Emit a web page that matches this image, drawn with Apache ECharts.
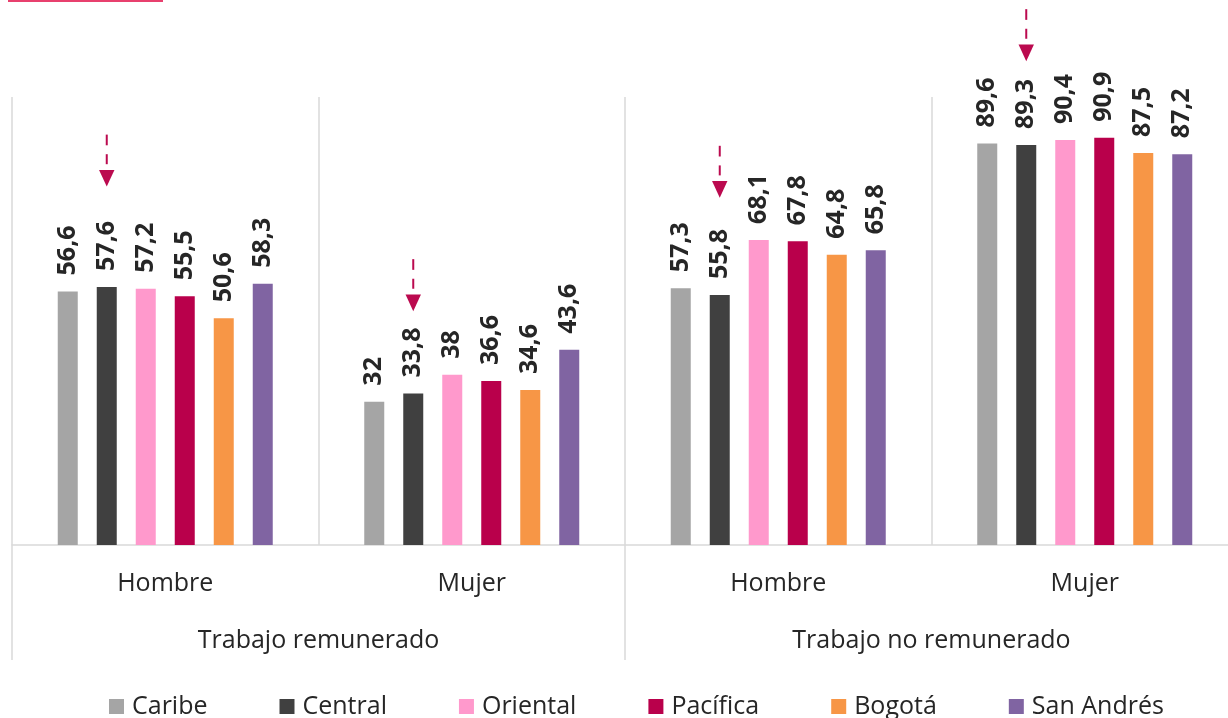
<!DOCTYPE html>
<html>
<head>
<meta charset="utf-8">
<script src="https://cdn.jsdelivr.net/npm/echarts@6/dist/echarts.min.js"></script>
<style>
  html, body { margin: 0; padding: 0; background: #ffffff; }
  #chart { width: 1228px; height: 718px; }
</style>
</head>
<body>
<div id="chart"></div>
<script>
// ---- data ----
var categories = ['Hombre', 'Mujer', 'Hombre', 'Mujer'];
var groups = ['Trabajo remunerado', 'Trabajo no remunerado'];
var seriesNames = ['Caribe', 'Central', 'Oriental', 'Pacífica', 'Bogotá', 'San Andrés'];
var caribe    = [56.6, 32,   57.3, 89.6];
var central   = [57.6, 33.8, 55.8, 89.3];
var oriental  = [57.2, 38,   68.1, 90.4];
var pacifica  = [55.5, 36.6, 67.8, 90.9];
var bogota    = [50.6, 34.6, 64.8, 87.5];
var sanAndres = [58.3, 43.6, 65.8, 87.2];
// arrow annotations (category index, value of the arrow tip) pointing at Central
var arrowTips = [[0, 80], [1, 52.2], [2, 77.5], [3, 108]];

// ---- styles ----
var colors = ['#a5a5a5', '#404040', '#ff99cc', '#b9004b', '#f79646', '#8064a2'];
var FONT = 'Open Sans';
var TEXT = '#262626';
var LINE = '#d9d9d9';
var BAR_W = 20;
var BAR_GAP = 0.95;
var ARROW = '#bb0a4f';

var values = [caribe, central, oriental, pacifica, bogota, sanAndres];

function fmt(p) { return String(p.value).replace('.', ','); }

var barSeries = seriesNames.map(function (name, i) {
  return {
    name: name,
    type: 'bar',
    data: values[i],
    barWidth: BAR_W,
    barGap: (BAR_GAP * 100) + '%',
    itemStyle: { color: colors[i] },
    label: {
      show: true,
      position: 'top',
      distance: 16,
      rotate: 90,
      align: 'left',
      verticalAlign: 'middle',
      fontSize: 25,
      fontWeight: 'bold',
      fontFamily: FONT,
      color: TEXT,
      formatter: fmt
    },
    emphasis: { disabled: true }
  };
});

var centralIndex = 1;
var nBars = seriesNames.length;

var arrowSeries = {
  type: 'custom',
  name: 'arrows',
  data: arrowTips,
  encode: { x: 0, y: 1 },
  clip: false,
  silent: true,
  renderItem: function (params, api) {
    var p = api.coord([api.value(0), api.value(1)]);
    var x = p[0] + (centralIndex - (nBars - 1) / 2) * BAR_W * (1 + BAR_GAP);
    var tip = p[1];
    return {
      type: 'group',
      children: [
        { type: 'rect', shape: { x: x - 1, y: tip - 52, width: 2, height: 10.7 }, style: { fill: ARROW } },
        { type: 'rect', shape: { x: x - 1, y: tip - 32.4, width: 2, height: 10 }, style: { fill: ARROW } },
        { type: 'polygon', shape: { points: [[x - 7.7, tip - 16.7], [x + 7.7, tip - 16.7], [x, tip]] }, style: { fill: ARROW } }
      ]
    };
  }
};

var chart = echarts.init(document.getElementById('chart'), null, { renderer: 'canvas' });
chart.setOption({
  animation: false,
  backgroundColor: '#ffffff',
  textStyle: { fontFamily: FONT },
  graphic: [
    { type: 'rect', left: 8, top: 0, shape: { width: 155, height: 2 }, style: { fill: '#e8406e' } }
  ],
  legend: {
    data: seriesNames,
    left: 109,
    top: 694,
    padding: 0,
    itemGap: 72,
    itemWidth: 15,
    itemHeight: 15,
    icon: 'rect',
    selectedMode: false,
    textStyle: { fontSize: 25, color: TEXT, fontFamily: FONT, padding: [0, 0, 0, 3] }
  },
  grid: { left: 12, top: 97, width: 1226, height: 448, containLabel: false, outerBoundsMode: 'none' },
  xAxis: [
    {
      type: 'category',
      data: categories,
      position: 'bottom',
      axisLine: { show: true, lineStyle: { color: LINE, width: 1.5 } },
      axisTick: { show: false },
      splitLine: { show: true, interval: 0, lineStyle: { color: LINE, width: 1.5 } },
      axisLabel: { interval: 0, margin: 26, fontSize: 25, color: TEXT, fontFamily: FONT }
    },
    {
      type: 'category',
      data: groups,
      position: 'bottom',
      axisLine: { show: false },
      axisTick: { show: true, interval: 0, length: 115, lineStyle: { color: LINE, width: 1.5 } },
      splitLine: { show: false },
      axisLabel: { interval: 0, margin: 83, fontSize: 25, color: TEXT, fontFamily: FONT }
    }
  ],
  yAxis: {
    type: 'value',
    min: 0,
    max: 100,
    show: false,
    splitLine: { show: false }
  },
  series: barSeries.concat([arrowSeries])
});
</script>
</body>
</html>
